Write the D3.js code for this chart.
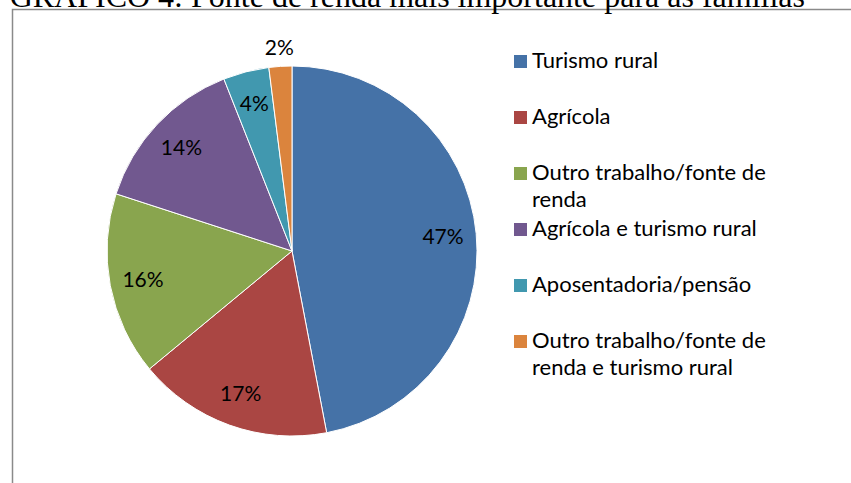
<!DOCTYPE html>
<html>
<head>
<meta charset="utf-8">
<script src="https://cdn.jsdelivr.net/npm/d3@7"></script>
<style>
	body { margin: 0; background: #fff; }
	svg { display: block; }
	.lbl { font-family: Lato, "Open Sans", sans-serif; fill: #000; }
</style>
</head>
<body>
<div id="piechart"></div>
<script>
var titleText = 'GRÁFICO 4: Fonte de renda mais importante para as famílias';

var categories = [
	'Turismo rural',
	'Agrícola',
	'Outro trabalho/fonte de renda',
	'Agrícola e turismo rural',
	'Aposentadoria/pensão',
	'Outro trabalho/fonte de renda e turismo rural'
];
var values = [47, 17, 16, 14, 4, 2];
var legendLines = [
	['Turismo rural'],
	['Agrícola'],
	['Outro trabalho/fonte de', 'renda'],
	['Agrícola e turismo rural'],
	['Aposentadoria/pensão'],
	['Outro trabalho/fonte de', 'renda e turismo rural']
];
var colors = ['#4572A7', '#AA4643', '#89A54E', '#71588F', '#4198AF', '#DB843D'];

var width = 851, height = 483;

var svg = d3.select('#piechart').append('svg')
	.attr('width', width)
	.attr('height', height);

// chart frame
svg.append('rect')
	.attr('x', 12.5)
	.attr('y', 9.5)
	.attr('width', 900)
	.attr('height', 600)
	.attr('fill', '#fff')
	.attr('stroke', '#8a8a8a')
	.attr('stroke-width', 1.5);

// title, cut off at the top like the scan
svg.append('text')
	.attr('x', 805)
	.attr('y', 7)
	.attr('text-anchor', 'end')
	.style('font-family', '"Liberation Serif", "Times New Roman", serif')
	.style('font-size', '32px')
	.text(titleText);

var cx = 292, cy = 251, r = 185;

var data = categories.map(function(c, i) {
	return { name: c, value: values[i], color: colors[i] };
});

var pie = d3.pie()
	.sort(null)
	.value(function(d) { return d.value; });

var arc = d3.arc().innerRadius(0).outerRadius(r);
var labelArc = d3.arc().innerRadius(r * 0.82).outerRadius(r * 0.82);
var outerArc = d3.arc().innerRadius(r * 1.1).outerRadius(r * 1.1);

var pieG = svg.append('g')
	.attr('transform', 'translate(' + cx + ',' + cy + ')');

var arcs = pie(data);

pieG.selectAll('path')
	.data(arcs)
	.enter()
	.append('path')
	.attr('d', arc)
	.attr('fill', function(d) { return d.data.color; })
	.attr('stroke', '#fff')
	.attr('stroke-width', 1);

pieG.selectAll('text')
	.data(arcs)
	.enter()
	.append('text')
	.attr('class', 'lbl')
	.attr('transform', function(d) {
		var p = d.data.value < 3 ? outerArc.centroid(d) : labelArc.centroid(d);
		return 'translate(' + p[0] + ',' + p[1] + ')';
	})
	.attr('text-anchor', 'middle')
	.attr('dy', '0.35em')
	.style('font-size', '21px')
	.text(function(d) { return d.data.value + '%'; });

// legend
var legend = svg.append('g')
	.attr('transform', 'translate(514, 68)');

var item = legend.selectAll('g')
	.data(legendLines)
	.enter()
	.append('g')
	.attr('transform', function(d, i) { return 'translate(0,' + (i * 56) + ')'; });

item.append('rect')
	.attr('x', 0)
	.attr('y', -13)
	.attr('width', 13)
	.attr('height', 13)
	.attr('fill', function(d, i) { return colors[i]; });

item.append('text')
	.attr('class', 'lbl')
	.attr('x', 18)
	.attr('y', 0)
	.style('font-size', '22px')
	.selectAll('tspan')
	.data(function(d) { return d; })
	.enter()
	.append('tspan')
	.attr('x', 18)
	.attr('dy', function(d, i) { return i === 0 ? 0 : 27; })
	.text(function(d) { return d; });
</script>
</body>
</html>
